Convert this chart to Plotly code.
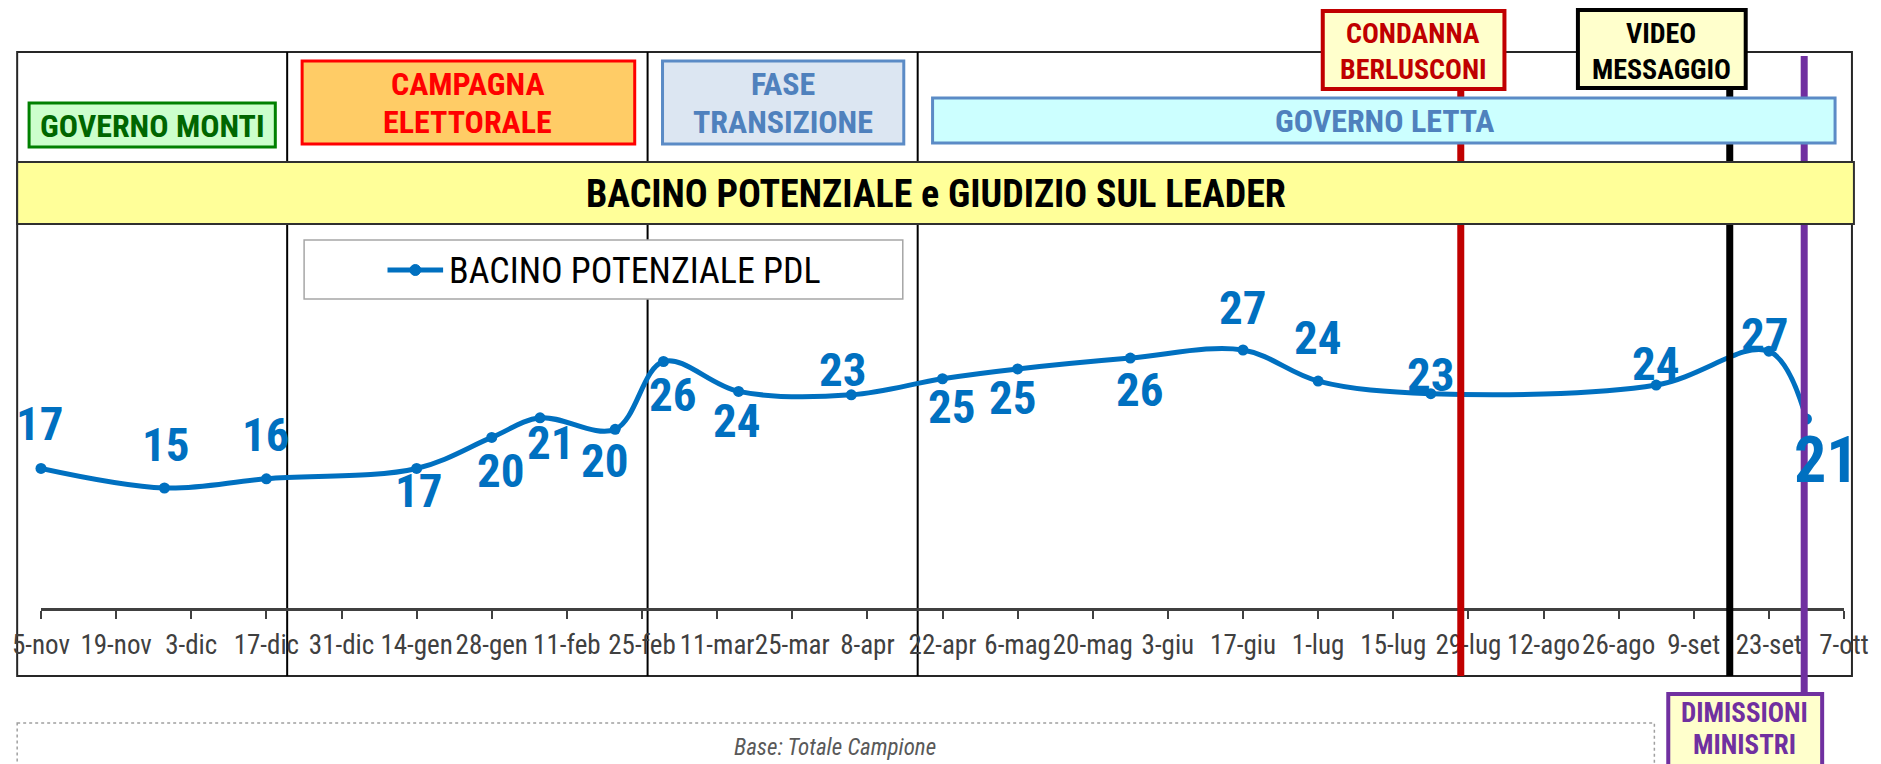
import plotly.graph_objects as go

# ---------------- data ----------------
survey_dates = ["2012-11-05", "2012-11-28", "2012-12-17", "2013-01-14", "2013-01-28",
                "2013-02-06", "2013-02-20", "2013-03-01", "2013-03-15", "2013-04-05",
                "2013-04-22", "2013-05-06", "2013-05-27", "2013-06-17", "2013-07-01",
                "2013-07-22", "2013-09-02", "2013-09-23", "2013-09-30"]
bacino_values = [16.7, 15.0, 15.8, 16.7, 19.4, 21.1, 20.1, 26.0, 23.4, 23.1,
                 24.5, 25.35, 26.3, 27.0, 24.3, 23.2, 23.95, 26.9, 21.0]
bacino_labels = ["17", "15", "16", "17", "20", "21", "20", "26", "24", "23",
                 "25", "25", "26", "27", "24", "23", "24", "27", "21"]

tick_dates = ["2012-11-05", "2012-11-19", "2012-12-03", "2012-12-17", "2012-12-31",
              "2013-01-14", "2013-01-28", "2013-02-11", "2013-02-25", "2013-03-11",
              "2013-03-25", "2013-04-08", "2013-04-22", "2013-05-06", "2013-05-20",
              "2013-06-03", "2013-06-17", "2013-07-01", "2013-07-15", "2013-07-29",
              "2013-08-12", "2013-08-26", "2013-09-09", "2013-09-23", "2013-10-07"]
tick_labels = ["5-nov", "19-nov", "3-dic", "17-dic", "31-dic", "14-gen", "28-gen",
               "11-feb", "25-feb", "11-mar", "25-mar", "8-apr", "22-apr", "6-mag",
               "20-mag", "3-giu", "17-giu", "1-lug", "15-lug", "29-lug", "12-ago",
               "26-ago", "9-set", "23-set", "7-ott"]

period_bounds = ["2012-12-20 21:00", "2013-02-26 01:00", "2013-04-17 09:00"]
event_dates = ["2013-07-27 14:00", "2013-09-15 17:00", "2013-09-29 14:00"]

series_name = "BACINO POTENZIALE PDL"
title_text = "BACINO POTENZIALE e GIUDIZIO SUL LEADER"
footer_text = "Base: Totale Campione"

# ---------------- geometry / style ----------------
W, H = 1881, 764
L, R, T, B = 36, 1852, 224, 608
FONT = "Roboto Condensed, DejaVu Sans Condensed, sans-serif"
BLUE = "#0070C0"


def X(px):
    return (px - L) / (R - L)


def Y(py):
    return (B - py) / (B - T)


# y-range so that 15 sits at 488px and 27 at 350px
PPU = 11.5
y_lo = 15 - (B - 488) / PPU
y_hi = 15 + (488 - T) / PPU

fig = go.Figure()
fig.add_trace(go.Scatter(
    x=survey_dates, y=bacino_values, mode="lines+markers", name=series_name,
    line=dict(color=BLUE, width=5, shape="spline", smoothing=1.0),
    marker=dict(color=BLUE, size=11), cliponaxis=False, showlegend=False,
    hoverinfo="skip"))

shapes = []
ann = []


def rect(x0, y0, x1, y1, fill, line, lw, layer="above", dash=None):
    d = dict(type="rect", xref="paper", yref="paper", x0=X(x0), x1=X(x1),
             y0=Y(y0), y1=Y(y1), fillcolor=fill, layer=layer,
             line=dict(color=line, width=lw))
    if dash:
        d["line"]["dash"] = dash
    shapes.append(d)


def text(px, py, s, size, color, bold=True, italic=False, xanchor="center"):
    ann.append(dict(xref="paper", yref="paper", x=X(px), y=Y(py), text=s,
                    showarrow=False, xanchor=xanchor, yanchor="middle",
                    font=dict(family=FONT, size=size, color=color,
                              weight="bold" if bold else "normal",
                              style="italic" if italic else "normal")))


# outer frame (below traces)
rect(12, 52, 1860, 676, "rgba(0,0,0,0)", "#262626", 2, layer="below")
# period dividers (below traces)
for d in period_bounds:
    shapes.append(dict(type="line", xref="x", yref="paper", x0=d, x1=d,
                       y0=Y(52), y1=Y(676), layer="below",
                       line=dict(color="#000000", width=2)))

# event lines (above traces, below boxes)
event_colors = ["#C00000", "#000000", "#7030A0"]
event_spans = [(89, 676), (88, 676), (56, 694)]
for d, c, (a, b) in zip(event_dates, event_colors, event_spans):
    shapes.append(dict(type="line", xref="x", yref="paper", x0=d, x1=d,
                       y0=Y(a), y1=Y(b), layer="above",
                       line=dict(color=c, width=7)))

# yellow title band
rect(12, 162, 1862, 224, "#FFFF99", "#303030", 2)
text(937, 194, title_text, 38, "#000000")

# period boxes
rect(24, 103, 272, 147, "#CCFFCC", "#008000", 3)
text(148, 126, "GOVERNO MONTI", 32, "#006600")

rect(299, 61, 634, 144, "#FFCC66", "#FF0000", 3)
text(466, 84, "CAMPAGNA", 32, "#FF0000")
text(466, 122, "ELETTORALE", 32, "#FF0000")

rect(662, 61, 905, 144, "#DCE6F2", "#5B8BC6", 3)
text(783, 84, "FASE", 32, "#4F81BD")
text(783, 122, "TRANSIZIONE", 32, "#4F81BD")

rect(934, 98, 1843, 143, "#CCFFFF", "#5B8BC6", 3)
text(1389, 121, "GOVERNO LETTA", 32, "#4F81BD")

# event boxes
rect(1327, 11, 1510, 89, "#FFFFCC", "#C00000", 4)
text(1418, 33, "CONDANNA", 28, "#C00000")
text(1418, 69, "BERLUSCONI", 28, "#C00000")

rect(1584, 10, 1753, 88, "#FFFFCC", "#000000", 4)
text(1668, 33, "VIDEO", 28, "#000000")
text(1668, 69, "MESSAGGIO", 28, "#000000")

rect(1675, 694, 1830, 790, "#FFFFCC", "#7030A0", 4)
text(1752, 713, "DIMISSIONI", 27, "#7030A0")
text(1752, 745, "MINISTRI", 27, "#7030A0")

# custom legend
rect(301, 240, 904, 299, "#FFFFFF", "#A6A6A6", 1.5)
shapes.append(dict(type="line", xref="paper", yref="paper", x0=X(385), x1=X(441),
                   y0=Y(270), y1=Y(270), layer="above",
                   line=dict(color=BLUE, width=5)))
shapes.append(dict(type="circle", xref="paper", yref="paper", x0=X(407.5), x1=X(418.5),
                   y0=Y(264.5), y1=Y(275.5), layer="above", fillcolor=BLUE,
                   line=dict(color=BLUE, width=1)))
text(445, 271, series_name, 36, "#000000", bold=False, xanchor="left")

# footer
rect(12, 723, 1661, 800, "rgba(0,0,0,0)", "#A0A0A0", 1.5, dash="dot")
text(836, 747, footer_text, 23, "#595959", bold=False, italic=True)

# data labels (offset in px: dx right, dy down)
label_offsets = [(-1, -45), (2, -44), (0, -44), (2, 22), (9, 33), (11, 25), (-10, 31),
                 (10, 33), (-2, 29), (-8, -25), (9, 28), (-5, 29), (10, 31), (0, -43),
                 (0, -44), (0, -19), (0, -22), (-4, -17), (20, 41)]
for i, (d, v, s) in enumerate(zip(survey_dates, bacino_values, bacino_labels)):
    dx, dy = label_offsets[i]
    size = 64 if i == len(bacino_labels) - 1 else 47
    ann.append(dict(xref="x", yref="y", x=d, y=v, text=s, showarrow=False,
                    xanchor="center", yanchor="middle", xshift=dx, yshift=-dy,
                    font=dict(family=FONT, size=size, color=BLUE, weight="bold")))

fig.update_layout(
    width=W, height=H, autosize=False,
    margin=dict(l=L, r=W - R, t=T, b=H - B, pad=0),
    paper_bgcolor="#FFFFFF", plot_bgcolor="rgba(0,0,0,0)",
    shapes=shapes, annotations=ann, showlegend=False,
    xaxis=dict(type="date", range=[tick_dates[0], tick_dates[-1]],
               tickmode="array", tickvals=tick_dates, ticktext=tick_labels,
               showgrid=False, zeroline=False, showline=True, linecolor="#404040",
               linewidth=3, ticks="outside", ticklen=8, tickwidth=2,
               tickcolor="#404040", tickangle=0, ticklabelstandoff=3,
               tickfont=dict(family=FONT, size=27, color="#404040")),
    yaxis=dict(range=[y_lo, y_hi], visible=False, showgrid=False, zeroline=False),
)

fig.write_html("out.html", config={"displayModeBar": False},
               post_script="document.body.style.margin='0';document.body.style.overflow='hidden';")
